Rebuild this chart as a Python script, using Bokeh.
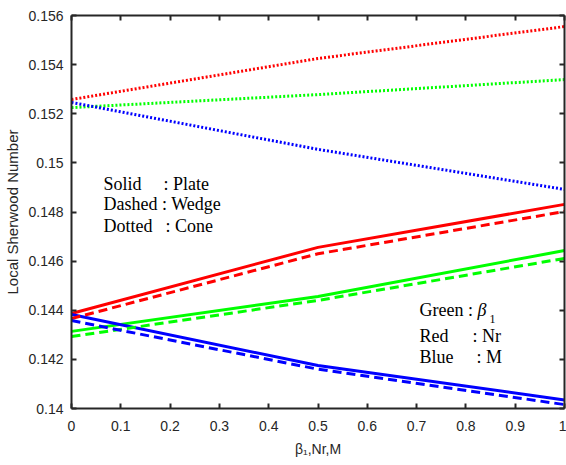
from bokeh.plotting import figure
from bokeh.models import LinearAxis, FixedTicker, Label, Range1d
from bokeh.embed import file_html
from bokeh.resources import INLINE

# ---- data ----
x_vals = [0.0, 0.5, 1.0]

plate_beta = [0.14314, 0.14456, 0.14643]
plate_nr = [0.14387, 0.14656, 0.14831]
plate_m = [0.14383, 0.14175, 0.14035]

wedge_beta = [0.14293, 0.14440, 0.14611]
wedge_nr = [0.14366, 0.14630, 0.14802]
wedge_m = [0.14358, 0.14160, 0.14016]

cone_beta = [0.15225, 0.15278, 0.15339]
cone_nr = [0.15258, 0.15425, 0.15555]
cone_m = [0.15246, 0.15055, 0.14892]

x_ticks = [0, 0.1, 0.2, 0.3, 0.4, 0.5, 0.6, 0.7, 0.8, 0.9, 1]
x_tick_labels = ["0", "0.1", "0.2", "0.3", "0.4", "0.5", "0.6", "0.7", "0.8", "0.9", "1"]
y_ticks = [0.14, 0.142, 0.144, 0.146, 0.148, 0.15, 0.152, 0.154, 0.156]
y_tick_labels = ["0.14", "0.142", "0.144", "0.146", "0.148", "0.15", "0.152", "0.154", "0.156"]

GREEN = "#00FF00"
RED = "#FF0000"
BLUE = "#0000FF"
AX = "#262626"

p = figure(width=566, height=465, output_backend="svg", toolbar_location=None,
           x_range=Range1d(0, 1), y_range=Range1d(0.14, 0.156),
           min_border_left=71, min_border_right=2, min_border_top=15, min_border_bottom=57,
           x_axis_label="β₁,Nr,M", y_axis_label="Local Sherwood Number")
p.grid.visible = False
p.outline_line_color = None
p.background_fill_color = "white"
p.border_fill_color = "white"

series = [
    (plate_beta, GREEN, "solid"), (plate_nr, RED, "solid"), (plate_m, BLUE, "solid"),
    (wedge_beta, GREEN, "9 5"), (wedge_nr, RED, "9 5"), (wedge_m, BLUE, "9 5"),
    (cone_beta, GREEN, "2 2"), (cone_nr, RED, "2 2"), (cone_m, BLUE, "2 2"),
]
for ys, col, dash in series:
    p.line(x_vals, ys, line_color=col, line_width=3, line_dash=dash)

def style_axis(ax, show_labels=True, ticks=None):
    ax.axis_line_color = AX
    ax.axis_line_width = 2
    ax.major_tick_line_color = AX
    ax.major_tick_line_width = 2
    ax.major_tick_in = 5
    ax.major_tick_out = 0
    ax.minor_tick_line_color = None
    ax.major_label_text_font = "Liberation Sans"
    ax.major_label_text_color = AX
    ax.major_label_text_font_size = "14px"
    if not show_labels:
        ax.major_label_overrides = {t: "" for t in ticks}
        ax.major_label_standoff = 0

xa = p.xaxis[0]
ya = p.yaxis[0]
xa.ticker = FixedTicker(ticks=x_ticks)
ya.ticker = FixedTicker(ticks=y_ticks)
xa.major_label_overrides = {t: l for t, l in zip(x_ticks, x_tick_labels)}
ya.major_label_overrides = {t: l for t, l in zip(y_ticks, y_tick_labels)}
style_axis(xa)
style_axis(ya)
xa.major_label_standoff = 12
ya.major_label_standoff = 8
for ax in (xa, ya):
    ax.axis_label_text_font = "Liberation Sans"
    ax.axis_label_text_font_size = "14px"
    ax.axis_label_text_font_style = "normal"
    ax.axis_label_text_color = AX
xa.axis_label_standoff = 7
ya.axis_label_standoff = 4
ya.axis_label_text_font_size = "15px"

top = LinearAxis(ticker=FixedTicker(ticks=x_ticks))
right = LinearAxis(ticker=FixedTicker(ticks=y_ticks))
style_axis(top, False, x_ticks)
style_axis(right, False, y_ticks)
p.add_layout(top, "above")
p.add_layout(right, "right")

def lab(x, y, t, size="18px", style="normal", font="Liberation Serif"):
    p.add_layout(Label(x=x, y=y, text=t, text_font=font, text_font_size=size,
                       text_font_style=style, text_baseline="middle", text_align="left",
                       text_color="black"))

lab(0.0649, 0.14916, "Solid")
lab(0.1866, 0.14916, ": Plate")
lab(0.0649, 0.14831, "Dashed : Wedge")
lab(0.0649, 0.14741, "Dotted")
lab(0.1907, 0.14741, ": Cone")

lab(0.706, 0.14403, "Green :")
lab(0.8235, 0.14403, "β", style="italic")
lab(0.848, 0.14365, "1", size="12px")
lab(0.706, 0.14297, "Red")
lab(0.8134, 0.14297, ": Nr")
lab(0.706, 0.14208, "Blue")
lab(0.8215, 0.14208, ": M")

open("out.html", "w").write(file_html(p, INLINE))
